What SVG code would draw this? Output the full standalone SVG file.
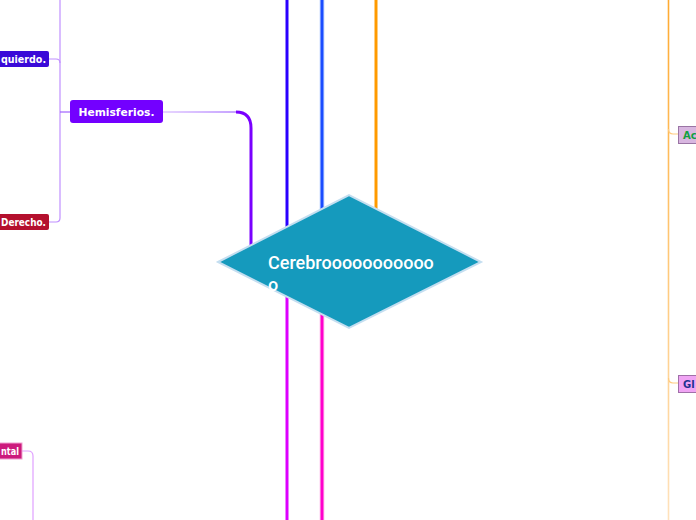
<svg xmlns="http://www.w3.org/2000/svg" width="696" height="520" viewBox="0 0 696 520">
<defs>
<style>
.lbl{font-family:"DejaVu Sans",Verdana,sans-serif;font-weight:bold;font-size:10.7px;fill:#ffffff}
.sm{font-family:"DejaVu Sans",Verdana,sans-serif;font-weight:bold;font-size:10px}
.thin{fill:none;stroke-width:1.2}
.thick{fill:none;stroke-width:3}
</style>
<linearGradient id="hg" gradientUnits="userSpaceOnUse" x1="163" y1="0" x2="240" y2="0">
<stop offset="0" stop-color="#e0c8ff"/>
<stop offset="1" stop-color="#b080ff"/>
</linearGradient>
<linearGradient id="og" gradientUnits="userSpaceOnUse" x1="0" y1="0" x2="0" y2="520">
<stop offset="0" stop-color="#ffaa30"/>
<stop offset="0.5" stop-color="#ffc878"/>
<stop offset="1" stop-color="#ffe2bc"/>
</linearGradient>
</defs>
<rect width="696" height="520" fill="#ffffff"/>
<g id="connectors">
<path class="thin" d="M60 0 V218 Q60 222 56 222 H49" stroke="#c090ff"/>
<path class="thin" d="M49 59 H56 Q60 59 60 63" stroke="#c090ff"/>
<path class="thin" d="M60 112 H70" stroke="#a060ff"/>
<path d="M163 112 H236" fill="none" stroke="url(#hg)" stroke-width="1.5"/>
<path d="M236 112 Q251 112 251 128 V250" fill="none" stroke="#7a00ff" stroke-width="3"/>
<path class="thick" d="M287 0 V240" stroke="#2a00ff"/>
<path d="M322 0 V240" fill="none" stroke="#cfe0ff" stroke-width="5"/>
<path class="thick" d="M322 0 V240" stroke="#1a4cff"/>
<path class="thick" d="M376 0 V215" stroke="#ff9a00"/>
<path class="thick" d="M287 280 V520" stroke="#dd00ff"/>
<path d="M322 280 V520" fill="none" stroke="#ffd0f2" stroke-width="5"/>
<path class="thick" d="M322 280 V520" stroke="#ff00cc"/>
<path d="M668.5 0 V520" fill="none" stroke="url(#og)" stroke-width="1.6"/>
<path class="thin" d="M668.5 129 Q668.5 134 673 134 H678" stroke="#ffcc80"/>
<path class="thin" d="M668.5 378 Q668.5 383 673 383 H678" stroke="#ffcc80"/>
<path class="thin" d="M22 451 H28 Q33 451 33 456 V520" stroke="#e0a0ff"/>
</g>
<g id="node-izquierdo">
<rect x="-10" y="51" width="59" height="16" rx="2" fill="#3a0ad8"/>
<text class="lbl" x="1" y="63" textLength="45" lengthAdjust="spacingAndGlyphs">quierdo.</text>
</g>
<g id="node-derecho">
<rect x="-10" y="214" width="59" height="16" rx="2" fill="#b4102e"/>
<text class="lbl" x="1" y="226" textLength="45" lengthAdjust="spacingAndGlyphs">Derecho.</text>
</g>
<g id="node-hemisferios">
<rect x="70" y="100" width="93" height="23" rx="3" fill="#7300ff"/>
<text class="lbl" x="116.5" y="116" text-anchor="middle">Hemisferios.</text>
</g>
<g id="node-ntal">
<rect x="-10" y="443" width="32" height="16" fill="#cc1a7c" stroke="#f0a0d0" stroke-width="1"/>
<text class="lbl" x="1" y="455" textLength="18" lengthAdjust="spacingAndGlyphs">ntal</text>
</g>
<g id="node-ac">
<rect x="678.5" y="126.5" width="30" height="17" fill="#d8b6e0" stroke="#9a74a4" stroke-width="1"/>
<text class="sm" x="683" y="139" fill="#12a040">Ac</text>
</g>
<g id="node-gl">
<rect x="678.5" y="375.5" width="30" height="17" fill="#f0a4f4" stroke="#a070a8" stroke-width="1"/>
<text class="sm" x="683" y="388" fill="#1e3290">Gl</text>
</g>
<g id="node-cerebro">
<polygon points="218,262 349,195 481,262 349,328" fill="#159abd" stroke="#c4def0" stroke-width="2"/>
<text font-family="Roboto, sans-serif" font-size="18" font-weight="500" fill="#ffffff"><tspan x="268" y="269">Cerebrooooooooooo</tspan><tspan x="268" y="291">o</tspan></text>
</g>
</svg>
